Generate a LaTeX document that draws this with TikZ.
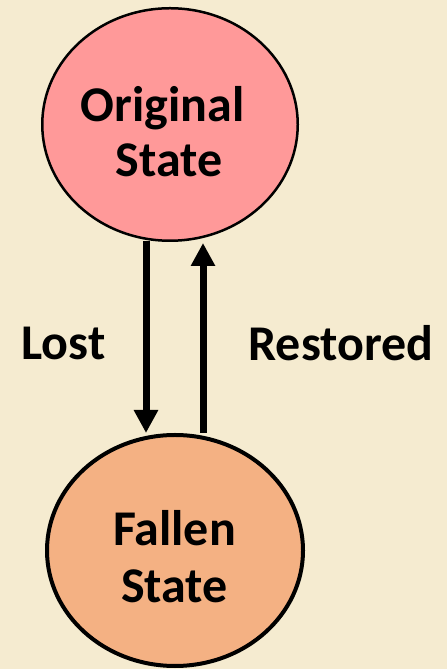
\documentclass[tikz,border=0pt]{standalone}
\usepackage{fontspec}
\setmainfont{Carlito}
\usetikzlibrary{shapes.geometric,arrows.meta}
\definecolor{bg}{RGB}{245,235,208}
\definecolor{pinkfill}{RGB}{255,153,153}
\definecolor{orangefill}{RGB}{244,177,131}
\tikzset{
  statebox/.style={ellipse, draw=black, inner sep=0pt},
  lbl/.style={font=\fontsize{50}{55}\selectfont\bfseries, inner sep=0pt, anchor=base},
  arr/.style={line width=7pt, -{Triangle[width=23pt,length=23pt]}},
}
\begin{document}
\begin{tikzpicture}[x=1pt,y=1pt]
\fill[bg] (0,0) rectangle (447,669);
\useasboundingbox (0,0) rectangle (447,669);
\node[statebox, fill=pinkfill, line width=2.5pt, minimum width=255.5pt, minimum height=232.5pt] (orig) at (170,544.5) {};
\node[statebox, fill=orangefill, line width=4pt, minimum width=256pt, minimum height=231pt] (fall) at (175,118.5) {};
\node[lbl] (t1) at (162.5,547) {Original};
\node[lbl] (t2) at (169,492) {State};
\node[lbl] (t3) at (174.5,123) {Fallen};
\node[lbl] (t4) at (174.5,66) {State};
\node[lbl] (lost) at (63.5,309) {Lost};
\node[lbl] (rest) at (341,308) {Restored};
\coordinate (d1) at (146,428);
\coordinate (d2) at (146,236);
\coordinate (u1) at (203,236);
\coordinate (u2) at (203,426);
\draw[arr] (d1) -- (d2);
\draw[arr] (u1) -- (u2);
\end{tikzpicture}
\end{document}
